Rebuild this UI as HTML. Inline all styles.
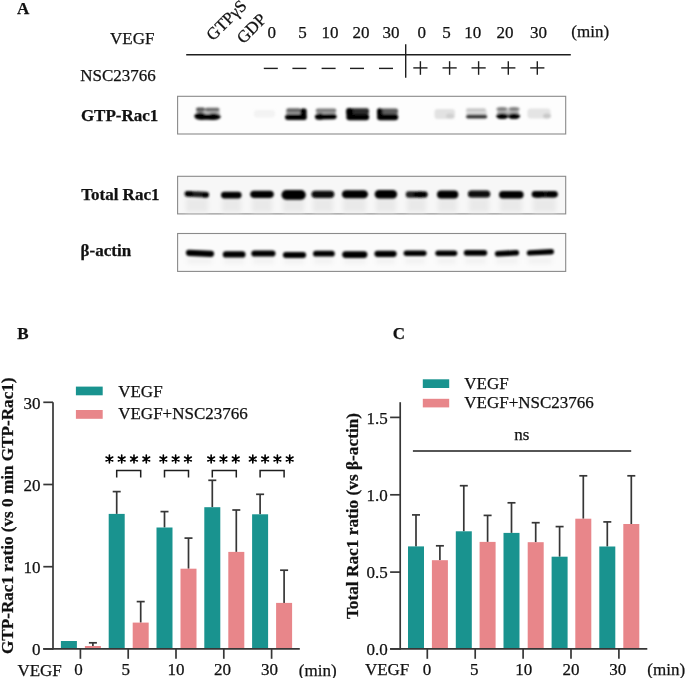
<!DOCTYPE html>
<html><head><meta charset="utf-8"><style>
html,body{margin:0;padding:0;background:#fff;}
svg{display:block;font-family:"Liberation Serif",serif;will-change:transform;}
text{fill:#111;stroke:#111;stroke-width:0.25px;}
</style></head><body>
<svg width="685" height="678" viewBox="0 0 685 678">
<defs><filter id="bl" x="-10%" y="-50%" width="120%" height="200%"><feGaussianBlur stdDeviation="1.25"/></filter><filter id="bl3" x="-20%" y="-50%" width="140%" height="200%"><feGaussianBlur stdDeviation="2"/></filter></defs>
<text x="17" y="14.3" text-anchor="start" font-size="17" font-weight="bold" >A</text>
<text x="154.5" y="44" text-anchor="end" font-size="17" >VEGF</text>
<text x="155.8" y="81" text-anchor="end" font-size="17" >NSC23766</text>
<text x="0" y="0" font-size="17" transform="translate(213,41.5) rotate(-45)">GTPγS</text>
<text x="0" y="0" font-size="17" transform="translate(243.4,44.4) rotate(-45)">GDP</text>
<text x="271.8" y="38" text-anchor="middle" font-size="17" >0</text>
<text x="302.6" y="38" text-anchor="middle" font-size="17" >5</text>
<text x="329.9" y="38" text-anchor="middle" font-size="17" >10</text>
<text x="361" y="38" text-anchor="middle" font-size="17" >20</text>
<text x="391" y="38" text-anchor="middle" font-size="17" >30</text>
<text x="421.7" y="38" text-anchor="middle" font-size="17" >0</text>
<text x="446.5" y="38" text-anchor="middle" font-size="17" >5</text>
<text x="472.7" y="38" text-anchor="middle" font-size="17" >10</text>
<text x="505.1" y="38" text-anchor="middle" font-size="17" >20</text>
<text x="538.5" y="38" text-anchor="middle" font-size="17" >30</text>
<text x="571.3" y="37.2" text-anchor="start" font-size="17" >(min)</text>
<line x1="186.2" y1="54.8" x2="570.8" y2="54.8" stroke="#1e1e1e" stroke-width="1.4"/>
<line x1="405.7" y1="44.2" x2="405.7" y2="77.7" stroke="#1e1e1e" stroke-width="1.4"/>
<line x1="263.8" y1="68.4" x2="277.8" y2="68.4" stroke="#1e1e1e" stroke-width="1.4"/>
<line x1="292.4" y1="68.4" x2="306.4" y2="68.4" stroke="#1e1e1e" stroke-width="1.4"/>
<line x1="321.6" y1="68.4" x2="335.6" y2="68.4" stroke="#1e1e1e" stroke-width="1.4"/>
<line x1="350" y1="68.4" x2="364" y2="68.4" stroke="#1e1e1e" stroke-width="1.4"/>
<line x1="379" y1="68.4" x2="393" y2="68.4" stroke="#1e1e1e" stroke-width="1.4"/>
<line x1="413.29999999999995" y1="67.9" x2="427.5" y2="67.9" stroke="#1e1e1e" stroke-width="1.4"/>
<line x1="420.4" y1="61.2" x2="420.4" y2="74.8" stroke="#1e1e1e" stroke-width="1.4"/>
<line x1="442.5" y1="67.9" x2="456.70000000000005" y2="67.9" stroke="#1e1e1e" stroke-width="1.4"/>
<line x1="449.6" y1="61.2" x2="449.6" y2="74.8" stroke="#1e1e1e" stroke-width="1.4"/>
<line x1="471.5" y1="67.9" x2="485.70000000000005" y2="67.9" stroke="#1e1e1e" stroke-width="1.4"/>
<line x1="478.6" y1="61.2" x2="478.6" y2="74.8" stroke="#1e1e1e" stroke-width="1.4"/>
<line x1="501.2" y1="67.9" x2="515.4" y2="67.9" stroke="#1e1e1e" stroke-width="1.4"/>
<line x1="508.3" y1="61.2" x2="508.3" y2="74.8" stroke="#1e1e1e" stroke-width="1.4"/>
<line x1="530.1999999999999" y1="67.9" x2="544.4" y2="67.9" stroke="#1e1e1e" stroke-width="1.4"/>
<line x1="537.3" y1="61.2" x2="537.3" y2="74.8" stroke="#1e1e1e" stroke-width="1.4"/>
<text x="80.9" y="120.7" text-anchor="start" font-size="17" font-weight="bold" >GTP-Rac1</text>
<text x="81.2" y="200.3" text-anchor="start" font-size="17" font-weight="bold" >Total Rac1</text>
<text x="80.6" y="256.1" text-anchor="start" font-size="17" font-weight="bold" >β-actin</text>
<rect x="177.6" y="96.3" width="388.1" height="37.7" fill="#fdfdfd" stroke="#8a8a8a" stroke-width="1.1"/>
<rect x="177.6" y="176.3" width="388.1" height="37.599999999999994" fill="#f7f7f7" stroke="#8a8a8a" stroke-width="1.1"/>
<rect x="177.6" y="233.5" width="388.1" height="37.89999999999998" fill="#fbfbfb" stroke="#8a8a8a" stroke-width="1.1"/>
<g filter="url(#bl3)">
<rect x="186" y="198" width="22" height="14" fill="#e9e9e9"/>
<rect x="222" y="198" width="19" height="14" fill="#e9e9e9"/>
<rect x="252" y="198" width="20" height="14" fill="#e9e9e9"/>
<rect x="283" y="198" width="21" height="14" fill="#e9e9e9"/>
<rect x="313" y="198" width="20" height="14" fill="#e9e9e9"/>
<rect x="343" y="198" width="23" height="14" fill="#e9e9e9"/>
<rect x="376" y="198" width="20" height="14" fill="#e9e9e9"/>
<rect x="407" y="198" width="19" height="14" fill="#e9e9e9"/>
<rect x="438" y="198" width="19" height="14" fill="#e9e9e9"/>
<rect x="469" y="198" width="20" height="14" fill="#e9e9e9"/>
<rect x="500" y="198" width="22" height="14" fill="#e9e9e9"/>
<rect x="533" y="198" width="23" height="14" fill="#e9e9e9"/>
<rect x="187" y="258" width="25" height="6" fill="#f2f2f2"/>
<rect x="224" y="258" width="20" height="6" fill="#f2f2f2"/>
<rect x="253" y="258" width="21" height="6" fill="#f2f2f2"/>
<rect x="284" y="258" width="20" height="6" fill="#f2f2f2"/>
<rect x="314" y="258" width="19" height="6" fill="#f2f2f2"/>
<rect x="344" y="258" width="22" height="6" fill="#f2f2f2"/>
<rect x="376" y="258" width="19" height="6" fill="#f2f2f2"/>
<rect x="405" y="258" width="20" height="6" fill="#f2f2f2"/>
<rect x="437" y="258" width="19" height="6" fill="#f2f2f2"/>
<rect x="465" y="258" width="21" height="6" fill="#f2f2f2"/>
<rect x="496" y="258" width="22" height="6" fill="#f2f2f2"/>
<rect x="528" y="258" width="24" height="6" fill="#f2f2f2"/>
</g>
<g filter="url(#bl)">
<rect x="196" y="110.5" width="24" height="4.5" rx="1" fill="#c4c4c4"/>
<rect x="286" y="110.5" width="20" height="4.5" rx="1" fill="#b0b0b0"/>
<rect x="316" y="110.5" width="20" height="4.5" rx="1" fill="#c0c0c0"/>
<rect x="346.5" y="110.5" width="22.5" height="4.5" rx="1" fill="#777"/>
<rect x="377.5" y="110.5" width="20.5" height="4.5" rx="1" fill="#999"/>
<rect x="466" y="110.5" width="21" height="4.5" rx="1" fill="#e2e2e2"/>
<rect x="497" y="110.5" width="22" height="4.5" rx="1" fill="#bbb"/>
<rect x="196" y="107.6" width="9" height="3.8000000000000114" rx="1.9000000000000057" fill="#555"/>
<rect x="205" y="107.8" width="14.5" height="3.6000000000000085" rx="1.8000000000000043" fill="#6a6a6a"/>
<ellipse cx="200.3" cy="116.1" rx="6.0" ry="3.6" fill="#000"/>
<ellipse cx="213.5" cy="116.7" rx="7.2" ry="3.4" fill="#000"/>
<rect x="200" y="114" width="14" height="5.799999999999997" rx="1" fill="#000"/>
<rect x="254" y="110" width="21" height="7.5" rx="3" fill="#f3f3f3"/>
<rect x="286.3" y="108.2" width="14.699999999999989" height="4.200000000000003" rx="2.1000000000000014" fill="#666"/>
<rect x="300.3" y="108.5" width="6.300000000000011" height="11.299999999999997" rx="2" fill="#000"/>
<path d="M287.9,114.2 L303.70000000000005,114.2 A2.8999999999999986,2.8999999999999986 0 0 1 303.70000000000005,120.0 L287.9,120.0 A2.8999999999999986,2.8999999999999986 0 0 1 287.9,114.2Z" fill="#000"/>
<rect x="315.8" y="108.6" width="20.5" height="3.700000000000003" rx="1.8500000000000014" fill="#7a7a7a"/>
<path d="M317.8,114.0 L333.8,113.7 A2.799999999999997,2.799999999999997 0 0 1 333.8,119.3 L317.8,119.6 A2.799999999999997,2.799999999999997 0 0 1 317.8,114.0Z" fill="#000"/>
<ellipse cx="320" cy="116.5" rx="5" ry="3.2" fill="#000"/>
<rect x="346.5" y="108.2" width="22.5" height="5.599999999999994" rx="2" fill="#2a2a2a"/>
<rect x="346.3" y="108.2" width="6.699999999999989" height="7.799999999999997" rx="2" fill="#000"/>
<path d="M349.5,113.8 L366.0,113.8 A3.200000000000003,3.200000000000003 0 0 1 366.0,120.2 L349.5,120.2 A3.200000000000003,3.200000000000003 0 0 1 349.5,113.8Z" fill="#000"/>
<rect x="377.3" y="108.6" width="20.69999999999999" height="4.6000000000000085" rx="2" fill="#5a5a5a"/>
<rect x="377" y="108.6" width="5.5" height="7.400000000000006" rx="2" fill="#000"/>
<path d="M380.2,113.8 L395.0,113.8 A3.200000000000003,3.200000000000003 0 0 1 395.0,120.2 L380.2,120.2 A3.200000000000003,3.200000000000003 0 0 1 380.2,113.8Z" fill="#000"/>
<rect x="434.5" y="109" width="20.5" height="10" rx="3" fill="#e2e2e2"/>
<ellipse cx="450" cy="116" rx="4" ry="2.5" fill="#d0d0d0"/>
<rect x="466" y="108.3" width="20" height="3.5" rx="1.75" fill="#c8c8c8"/>
<path d="M468.1,114.4 L485.1,114.4 A2.0999999999999943,2.0999999999999943 0 0 1 485.1,118.6 L468.1,118.6 A2.0999999999999943,2.0999999999999943 0 0 1 468.1,114.4Z" fill="#333"/>
<ellipse cx="502" cy="109" rx="5.7" ry="2.0" fill="#808080"/>
<ellipse cx="514" cy="109" rx="5.7" ry="2.0" fill="#808080"/>
<ellipse cx="502.3" cy="116.1" rx="6.2" ry="2.9" fill="#000"/>
<ellipse cx="514" cy="116.1" rx="6.2" ry="2.9" fill="#000"/>
<rect x="527.5" y="108.5" width="23.0" height="10.0" rx="3" fill="#e4e4e4"/>
<ellipse cx="547" cy="116" rx="4" ry="2.5" fill="#c8c8c8"/>
<path d="M187.35,191.0 L206.25000000000003,191.8 A2.8499999999999943,2.8499999999999943 0 0 1 206.25000000000003,197.5 L187.35,196.7 A2.8499999999999943,2.8499999999999943 0 0 1 187.35,191.0Z" fill="#1a1a1a"/>
<ellipse cx="205" cy="195.3" rx="3.2" ry="2.3" fill="#000"/>
<ellipse cx="189" cy="193.6" rx="4" ry="2.4" fill="#000"/>
<path d="M224.4,191.7 L238.20000000000002,191.7 A3.4000000000000057,3.4000000000000057 0 0 1 238.20000000000002,198.5 L224.4,198.5 A3.4000000000000057,3.4000000000000057 0 0 1 224.4,191.7Z" fill="#050505"/>
<path d="M253.8,190.7 L270.2,190.7 A3.6000000000000085,3.6000000000000085 0 0 1 270.2,197.9 L253.8,197.9 A3.6000000000000085,3.6000000000000085 0 0 1 253.8,190.7Z" fill="#050505"/>
<path d="M286.3,190.1 L301.0,190.1 A4.799999999999997,4.799999999999997 0 0 1 301.0,199.7 L286.3,199.7 A4.799999999999997,4.799999999999997 0 0 1 286.3,190.1Z" fill="#000"/>
<path d="M315.1,190.7 L330.7,190.7 A3.6000000000000085,3.6000000000000085 0 0 1 330.7,197.9 L315.1,197.9 A3.6000000000000085,3.6000000000000085 0 0 1 315.1,190.7Z" fill="#080808"/>
<path d="M346.09999999999997,190.3 L363.7,190.3 A4.0,4.0 0 0 1 363.7,198.3 L346.09999999999997,198.3 A4.0,4.0 0 0 1 346.09999999999997,190.3Z" fill="#000"/>
<ellipse cx="348" cy="194.3" rx="6" ry="3.5" fill="#000"/>
<ellipse cx="362" cy="194.3" rx="6" ry="3.5" fill="#000"/>
<path d="M378.95,189.9 L392.85,189.9 A4.25,4.25 0 0 1 392.85,198.4 L378.95,198.4 A4.25,4.25 0 0 1 378.95,189.9Z" fill="#000"/>
<path d="M409.0,191.2 L424.5,191.2 A3.3000000000000114,3.3000000000000114 0 0 1 424.5,197.8 L409.0,197.8 A3.3000000000000114,3.3000000000000114 0 0 1 409.0,191.2Z" fill="#202020"/>
<ellipse cx="420" cy="194.5" rx="7" ry="2.8" fill="#000"/>
<path d="M441.0,190.4 L454.3,190.4 A4.0,4.0 0 0 1 454.3,198.4 L441.0,198.4 A4.0,4.0 0 0 1 441.0,190.4Z" fill="#050505"/>
<path d="M471.4,190.4 L486.8,190.4 A3.5,3.5 0 0 1 486.8,197.4 L471.4,197.4 A3.5,3.5 0 0 1 471.4,190.4Z" fill="#080808"/>
<path d="M502.75,191.0 L519.8499999999999,191.0 A3.75,3.75 0 0 1 519.8499999999999,198.5 L502.75,198.5 A3.75,3.75 0 0 1 502.75,191.0Z" fill="#000"/>
<path d="M535.0,191.0 L554.5,191.0 A3.299999999999997,3.299999999999997 0 0 1 554.5,197.6 L535.0,197.6 A3.299999999999997,3.299999999999997 0 0 1 535.0,191.0Z" fill="#0a0a0a"/>
<ellipse cx="538" cy="194.3" rx="6" ry="3.4" fill="#000"/>
<ellipse cx="552" cy="194.3" rx="5.5" ry="3" fill="#000"/>
<path d="M189.0,249.70000000000002 L211.0,250.70000000000002 A3.0999999999999943,3.0999999999999943 0 0 1 211.0,256.9 L189.0,255.9 A3.0999999999999943,3.0999999999999943 0 0 1 189.0,249.70000000000002Z" fill="#000"/>
<path d="M226.0,251.20000000000002 L242.3,251.20000000000002 A3.200000000000003,3.200000000000003 0 0 1 242.3,257.6 L226.0,257.6 A3.200000000000003,3.200000000000003 0 0 1 226.0,251.20000000000002Z" fill="#000"/>
<path d="M254.40000000000003,250.4 L272.4,250.4 A3.1000000000000085,3.1000000000000085 0 0 1 272.4,256.6 L254.40000000000003,256.6 A3.1000000000000085,3.1000000000000085 0 0 1 254.40000000000003,250.4Z" fill="#000"/>
<path d="M285.95,251.9 L303.05,251.9 A3.049999999999997,3.049999999999997 0 0 1 303.05,258.0 L285.95,258.0 A3.049999999999997,3.049999999999997 0 0 1 285.95,251.9Z" fill="#000"/>
<path d="M315.95,250.70000000000002 L331.85,250.70000000000002 A2.950000000000003,2.950000000000003 0 0 1 331.85,256.6 L315.95,256.6 A2.950000000000003,2.950000000000003 0 0 1 315.95,250.70000000000002Z" fill="#000"/>
<path d="M345.59999999999997,251.20000000000002 L364.0,251.20000000000002 A3.3999999999999915,3.3999999999999915 0 0 1 364.0,258.0 L345.59999999999997,258.0 A3.3999999999999915,3.3999999999999915 0 0 1 345.59999999999997,251.20000000000002Z" fill="#000"/>
<path d="M377.54999999999995,250.70000000000002 L393.55,250.70000000000002 A3.1499999999999915,3.1499999999999915 0 0 1 393.55,257.0 L377.54999999999995,257.0 A3.1499999999999915,3.1499999999999915 0 0 1 377.54999999999995,250.70000000000002Z" fill="#000"/>
<path d="M406.35,250.4 L423.85,250.4 A2.75,2.75 0 0 1 423.85,255.9 L406.35,255.9 A2.75,2.75 0 0 1 406.35,250.4Z" fill="#000"/>
<path d="M438.05,250.4 L454.55,250.4 A2.75,2.75 0 0 1 454.55,255.9 L438.05,255.9 A2.75,2.75 0 0 1 438.05,250.4Z" fill="#000"/>
<path d="M466.6,250.1 L484.4,250.1 A2.799999999999997,2.799999999999997 0 0 1 484.4,255.7 L466.6,255.7 A2.799999999999997,2.799999999999997 0 0 1 466.6,250.1Z" fill="#000"/>
<path d="M497.7,251.0 L516.3,250.0 A2.8000000000000114,2.8000000000000114 0 0 1 516.3,255.60000000000002 L497.7,256.6 A2.8000000000000114,2.8000000000000114 0 0 1 497.7,251.0Z" fill="#000"/>
<path d="M529.5,250.20000000000002 L551.3,249.00000000000003 A2.6999999999999886,2.6999999999999886 0 0 1 551.3,254.4 L529.5,255.6 A2.6999999999999886,2.6999999999999886 0 0 1 529.5,250.20000000000002Z" fill="#000"/>
</g>
<text x="17.2" y="338.7" text-anchor="start" font-size="17" font-weight="bold" >B</text>
<rect x="75.9" y="386.6" width="26.8" height="8.7" fill="#19938f" />
<rect x="75.9" y="410.0" width="26.8" height="8.8" fill="#e8868a" />
<text x="118.2" y="396.8" text-anchor="start" font-size="17" >VEGF</text>
<text x="118.2" y="419.3" text-anchor="start" font-size="17" >VEGF+NSC23766</text>
<line x1="53" y1="402.2" x2="53" y2="649.6" stroke="#363636" stroke-width="1.7"/>
<line x1="43.3" y1="402.3" x2="53" y2="402.3" stroke="#363636" stroke-width="1.7"/>
<text x="40.6" y="408.5" text-anchor="end" font-size="17" >30</text>
<line x1="43.3" y1="484.5" x2="53" y2="484.5" stroke="#363636" stroke-width="1.7"/>
<text x="40.6" y="490.7" text-anchor="end" font-size="17" >20</text>
<line x1="43.3" y1="566.7" x2="53" y2="566.7" stroke="#363636" stroke-width="1.7"/>
<text x="40.6" y="572.9000000000001" text-anchor="end" font-size="17" >10</text>
<line x1="43.3" y1="648.9" x2="53" y2="648.9" stroke="#363636" stroke-width="1.7"/>
<text x="40.6" y="655.1" text-anchor="end" font-size="17" >0</text>
<line x1="80.4" y1="648.9" x2="80.4" y2="658.8" stroke="#363636" stroke-width="1.7"/>
<text x="78.4" y="675.3" text-anchor="middle" font-size="17" >0</text>
<line x1="128.2" y1="648.9" x2="128.2" y2="658.8" stroke="#363636" stroke-width="1.7"/>
<text x="125.79999999999998" y="675.3" text-anchor="middle" font-size="17" >5</text>
<line x1="176" y1="648.9" x2="176" y2="658.8" stroke="#363636" stroke-width="1.7"/>
<text x="176" y="675.3" text-anchor="middle" font-size="17" >10</text>
<line x1="223.8" y1="648.9" x2="223.8" y2="658.8" stroke="#363636" stroke-width="1.7"/>
<text x="222.4" y="675.3" text-anchor="middle" font-size="17" >20</text>
<line x1="271.6" y1="648.9" x2="271.6" y2="658.8" stroke="#363636" stroke-width="1.7"/>
<text x="269.6" y="675.3" text-anchor="middle" font-size="17" >30</text>
<text x="17.4" y="675.5" text-anchor="start" font-size="17" >VEGF</text>
<text x="298.8" y="675.5" text-anchor="start" font-size="17" >(min)</text>
<line x1="92.9" y1="642.8" x2="92.9" y2="646" stroke="#363636" stroke-width="1.7"/>
<line x1="88.9" y1="642.8" x2="96.9" y2="642.8" stroke="#363636" stroke-width="1.7"/>
<rect x="60.900000000000006" y="641" width="16" height="7.899999999999977" fill="#19938f" />
<rect x="84.9" y="646" width="16" height="2.8999999999999773" fill="#e8868a" />
<line x1="116.69999999999999" y1="491.6" x2="116.69999999999999" y2="513.9" stroke="#363636" stroke-width="1.7"/>
<line x1="112.69999999999999" y1="491.6" x2="120.69999999999999" y2="491.6" stroke="#363636" stroke-width="1.7"/>
<line x1="140.7" y1="601.6" x2="140.7" y2="622.6" stroke="#363636" stroke-width="1.7"/>
<line x1="136.7" y1="601.6" x2="144.7" y2="601.6" stroke="#363636" stroke-width="1.7"/>
<rect x="108.69999999999999" y="513.9" width="16" height="135.0" fill="#19938f" />
<rect x="132.7" y="622.6" width="16" height="26.299999999999955" fill="#e8868a" />
<line x1="164.5" y1="511.6" x2="164.5" y2="527.5" stroke="#363636" stroke-width="1.7"/>
<line x1="160.5" y1="511.6" x2="168.5" y2="511.6" stroke="#363636" stroke-width="1.7"/>
<line x1="188.5" y1="538.1" x2="188.5" y2="568.7" stroke="#363636" stroke-width="1.7"/>
<line x1="184.5" y1="538.1" x2="192.5" y2="538.1" stroke="#363636" stroke-width="1.7"/>
<rect x="156.5" y="527.5" width="16" height="121.39999999999998" fill="#19938f" />
<rect x="180.5" y="568.7" width="16" height="80.19999999999993" fill="#e8868a" />
<line x1="212.3" y1="480.3" x2="212.3" y2="507.2" stroke="#363636" stroke-width="1.7"/>
<line x1="208.3" y1="480.3" x2="216.3" y2="480.3" stroke="#363636" stroke-width="1.7"/>
<line x1="236.3" y1="510" x2="236.3" y2="551.9" stroke="#363636" stroke-width="1.7"/>
<line x1="232.3" y1="510" x2="240.3" y2="510" stroke="#363636" stroke-width="1.7"/>
<rect x="204.3" y="507.2" width="16" height="141.7" fill="#19938f" />
<rect x="228.3" y="551.9" width="16" height="97.0" fill="#e8868a" />
<line x1="260.1" y1="494.3" x2="260.1" y2="514.3" stroke="#363636" stroke-width="1.7"/>
<line x1="256.1" y1="494.3" x2="264.1" y2="494.3" stroke="#363636" stroke-width="1.7"/>
<line x1="284.1" y1="570.2" x2="284.1" y2="602.9" stroke="#363636" stroke-width="1.7"/>
<line x1="280.1" y1="570.2" x2="288.1" y2="570.2" stroke="#363636" stroke-width="1.7"/>
<rect x="252.10000000000002" y="514.3" width="16" height="134.60000000000002" fill="#19938f" />
<rect x="276.1" y="602.9" width="16" height="46.0" fill="#e8868a" />
<line x1="43.2" y1="648.9" x2="299.8" y2="648.9" stroke="#363636" stroke-width="1.7"/>
<path d="M109.40,462.90L109.40,455.10M106.02,460.95L112.78,457.05M106.02,457.05L112.78,460.95" stroke="#000" stroke-width="1.6" stroke-linecap="round" fill="none"/><circle cx="109.39999999999999" cy="459" r="1.6" fill="#000"/>
<path d="M121.70,462.90L121.70,455.10M118.32,460.95L125.08,457.05M118.32,457.05L125.08,460.95" stroke="#000" stroke-width="1.6" stroke-linecap="round" fill="none"/><circle cx="121.69999999999999" cy="459" r="1.6" fill="#000"/>
<path d="M134.00,462.90L134.00,455.10M130.62,460.95L137.38,457.05M130.62,457.05L137.38,460.95" stroke="#000" stroke-width="1.6" stroke-linecap="round" fill="none"/><circle cx="134.0" cy="459" r="1.6" fill="#000"/>
<path d="M146.30,462.90L146.30,455.10M142.92,460.95L149.68,457.05M142.92,457.05L149.68,460.95" stroke="#000" stroke-width="1.6" stroke-linecap="round" fill="none"/><circle cx="146.3" cy="459" r="1.6" fill="#000"/>
<path d="M116.69999999999999,477.5V470.5H140.7V477.5" stroke="#1e1e1e" stroke-width="1.5" fill="none"/>
<path d="M163.35,462.90L163.35,455.10M159.97,460.95L166.73,457.05M159.97,457.05L166.73,460.95" stroke="#000" stroke-width="1.6" stroke-linecap="round" fill="none"/><circle cx="163.35" cy="459" r="1.6" fill="#000"/>
<path d="M175.65,462.90L175.65,455.10M172.27,460.95L179.03,457.05M172.27,457.05L179.03,460.95" stroke="#000" stroke-width="1.6" stroke-linecap="round" fill="none"/><circle cx="175.65" cy="459" r="1.6" fill="#000"/>
<path d="M187.95,462.90L187.95,455.10M184.57,460.95L191.33,457.05M184.57,457.05L191.33,460.95" stroke="#000" stroke-width="1.6" stroke-linecap="round" fill="none"/><circle cx="187.95000000000002" cy="459" r="1.6" fill="#000"/>
<path d="M164.5,477.5V470.5H188.5V477.5" stroke="#1e1e1e" stroke-width="1.5" fill="none"/>
<path d="M211.15,462.90L211.15,455.10M207.77,460.95L214.53,457.05M207.77,457.05L214.53,460.95" stroke="#000" stroke-width="1.6" stroke-linecap="round" fill="none"/><circle cx="211.15" cy="459" r="1.6" fill="#000"/>
<path d="M223.45,462.90L223.45,455.10M220.07,460.95L226.83,457.05M220.07,457.05L226.83,460.95" stroke="#000" stroke-width="1.6" stroke-linecap="round" fill="none"/><circle cx="223.45000000000002" cy="459" r="1.6" fill="#000"/>
<path d="M235.75,462.90L235.75,455.10M232.37,460.95L239.13,457.05M232.37,457.05L239.13,460.95" stroke="#000" stroke-width="1.6" stroke-linecap="round" fill="none"/><circle cx="235.75000000000003" cy="459" r="1.6" fill="#000"/>
<path d="M212.3,477.5V470.5H236.3V477.5" stroke="#1e1e1e" stroke-width="1.5" fill="none"/>
<path d="M252.80,462.90L252.80,455.10M249.42,460.95L256.18,457.05M249.42,457.05L256.18,460.95" stroke="#000" stroke-width="1.6" stroke-linecap="round" fill="none"/><circle cx="252.8" cy="459" r="1.6" fill="#000"/>
<path d="M265.10,462.90L265.10,455.10M261.72,460.95L268.48,457.05M261.72,457.05L268.48,460.95" stroke="#000" stroke-width="1.6" stroke-linecap="round" fill="none"/><circle cx="265.1" cy="459" r="1.6" fill="#000"/>
<path d="M277.40,462.90L277.40,455.10M274.02,460.95L280.78,457.05M274.02,457.05L280.78,460.95" stroke="#000" stroke-width="1.6" stroke-linecap="round" fill="none"/><circle cx="277.4" cy="459" r="1.6" fill="#000"/>
<path d="M289.70,462.90L289.70,455.10M286.32,460.95L293.08,457.05M286.32,457.05L293.08,460.95" stroke="#000" stroke-width="1.6" stroke-linecap="round" fill="none"/><circle cx="289.7" cy="459" r="1.6" fill="#000"/>
<path d="M260.1,477.5V470.5H284.1V477.5" stroke="#1e1e1e" stroke-width="1.5" fill="none"/>
<text x="0" y="0" font-size="17.15" font-weight="bold" text-anchor="middle" transform="translate(13.2,515.75) rotate(-90)">GTP-Rac1 ratio (vs 0 min GTP-Rac1)</text>
<text x="392.7" y="339" text-anchor="start" font-size="17" font-weight="bold" >C</text>
<rect x="422.8" y="379.3" width="26.4" height="8.7" fill="#19938f" />
<rect x="422.8" y="398.8" width="26.4" height="8.6" fill="#e8868a" />
<text x="464.3" y="388.8" text-anchor="start" font-size="17" >VEGF</text>
<text x="464.3" y="407.8" text-anchor="start" font-size="17" >VEGF+NSC23766</text>
<line x1="400.2" y1="402.2" x2="400.2" y2="649.6" stroke="#363636" stroke-width="1.7"/>
<line x1="390.1" y1="417.4" x2="400.2" y2="417.4" stroke="#363636" stroke-width="1.7"/>
<text x="387.8" y="423.5" text-anchor="end" font-size="17" >1.5</text>
<line x1="390.1" y1="494.8" x2="400.2" y2="494.8" stroke="#363636" stroke-width="1.7"/>
<text x="387.8" y="500.90000000000003" text-anchor="end" font-size="17" >1.0</text>
<line x1="390.1" y1="572.1" x2="400.2" y2="572.1" stroke="#363636" stroke-width="1.7"/>
<text x="387.8" y="578.2" text-anchor="end" font-size="17" >0.5</text>
<line x1="390.1" y1="648.9" x2="400.2" y2="648.9" stroke="#363636" stroke-width="1.7"/>
<text x="387.8" y="655.0" text-anchor="end" font-size="17" >0.0</text>
<line x1="427.29999999999995" y1="648.9" x2="427.29999999999995" y2="658.8" stroke="#363636" stroke-width="1.7"/>
<text x="426.9" y="675.2" text-anchor="middle" font-size="17" >0</text>
<line x1="475.2" y1="648.9" x2="475.2" y2="658.8" stroke="#363636" stroke-width="1.7"/>
<text x="474.2" y="675.2" text-anchor="middle" font-size="17" >5</text>
<line x1="523.1" y1="648.9" x2="523.1" y2="658.8" stroke="#363636" stroke-width="1.7"/>
<text x="523.7" y="675.2" text-anchor="middle" font-size="17" >10</text>
<line x1="571.0" y1="648.9" x2="571.0" y2="658.8" stroke="#363636" stroke-width="1.7"/>
<text x="570.9" y="675.2" text-anchor="middle" font-size="17" >20</text>
<line x1="618.9" y1="648.9" x2="618.9" y2="658.8" stroke="#363636" stroke-width="1.7"/>
<text x="617.7" y="675.2" text-anchor="middle" font-size="17" >30</text>
<text x="364.9" y="675.3" text-anchor="start" font-size="17" >VEGF</text>
<text x="647.3" y="675.3" text-anchor="start" font-size="17" >(min)</text>
<line x1="416" y1="514.9" x2="416" y2="546.4" stroke="#363636" stroke-width="1.7"/>
<line x1="412" y1="514.9" x2="420" y2="514.9" stroke="#363636" stroke-width="1.7"/>
<line x1="439.9" y1="545.8" x2="439.9" y2="560.2" stroke="#363636" stroke-width="1.7"/>
<line x1="435.9" y1="545.8" x2="443.9" y2="545.8" stroke="#363636" stroke-width="1.7"/>
<rect x="408" y="546.4" width="16" height="102.5" fill="#19938f" />
<rect x="431.9" y="560.2" width="16" height="88.69999999999993" fill="#e8868a" />
<line x1="463.8" y1="485.7" x2="463.8" y2="531.3" stroke="#363636" stroke-width="1.7"/>
<line x1="459.8" y1="485.7" x2="467.8" y2="485.7" stroke="#363636" stroke-width="1.7"/>
<line x1="487.6" y1="515.4" x2="487.6" y2="541.9" stroke="#363636" stroke-width="1.7"/>
<line x1="483.6" y1="515.4" x2="491.6" y2="515.4" stroke="#363636" stroke-width="1.7"/>
<rect x="455.8" y="531.3" width="16" height="117.60000000000002" fill="#19938f" />
<rect x="479.6" y="541.9" width="16" height="107.0" fill="#e8868a" />
<line x1="511.5" y1="502.8" x2="511.5" y2="532.9" stroke="#363636" stroke-width="1.7"/>
<line x1="507.5" y1="502.8" x2="515.5" y2="502.8" stroke="#363636" stroke-width="1.7"/>
<line x1="535.7" y1="522.7" x2="535.7" y2="542.2" stroke="#363636" stroke-width="1.7"/>
<line x1="531.7" y1="522.7" x2="539.7" y2="522.7" stroke="#363636" stroke-width="1.7"/>
<rect x="503.5" y="532.9" width="16" height="116.0" fill="#19938f" />
<rect x="527.7" y="542.2" width="16" height="106.69999999999993" fill="#e8868a" />
<line x1="559.6" y1="526.6" x2="559.6" y2="556.7" stroke="#363636" stroke-width="1.7"/>
<line x1="555.6" y1="526.6" x2="563.6" y2="526.6" stroke="#363636" stroke-width="1.7"/>
<line x1="583.3" y1="475.8" x2="583.3" y2="518.7" stroke="#363636" stroke-width="1.7"/>
<line x1="579.3" y1="475.8" x2="587.3" y2="475.8" stroke="#363636" stroke-width="1.7"/>
<rect x="551.6" y="556.7" width="16" height="92.19999999999993" fill="#19938f" />
<rect x="575.3" y="518.7" width="16" height="130.19999999999993" fill="#e8868a" />
<line x1="607.3" y1="521.9" x2="607.3" y2="546.5" stroke="#363636" stroke-width="1.7"/>
<line x1="603.3" y1="521.9" x2="611.3" y2="521.9" stroke="#363636" stroke-width="1.7"/>
<line x1="631.3" y1="475.8" x2="631.3" y2="524" stroke="#363636" stroke-width="1.7"/>
<line x1="627.3" y1="475.8" x2="635.3" y2="475.8" stroke="#363636" stroke-width="1.7"/>
<rect x="599.3" y="546.5" width="16" height="102.39999999999998" fill="#19938f" />
<rect x="623.3" y="524" width="16" height="124.89999999999998" fill="#e8868a" />
<line x1="390.1" y1="648.9" x2="647.3" y2="648.9" stroke="#363636" stroke-width="1.7"/>
<line x1="412.9" y1="451.0" x2="631.2" y2="451.0" stroke="#1e1e1e" stroke-width="1.5"/>
<text x="521.8" y="439.7" text-anchor="middle" font-size="17" >ns</text>
<text x="0" y="0" font-size="17.3" font-weight="bold" text-anchor="middle" transform="translate(358.4,516) rotate(-90)">Total Rac1 ratio (vs β-actin)</text>
</svg>
</body></html>
